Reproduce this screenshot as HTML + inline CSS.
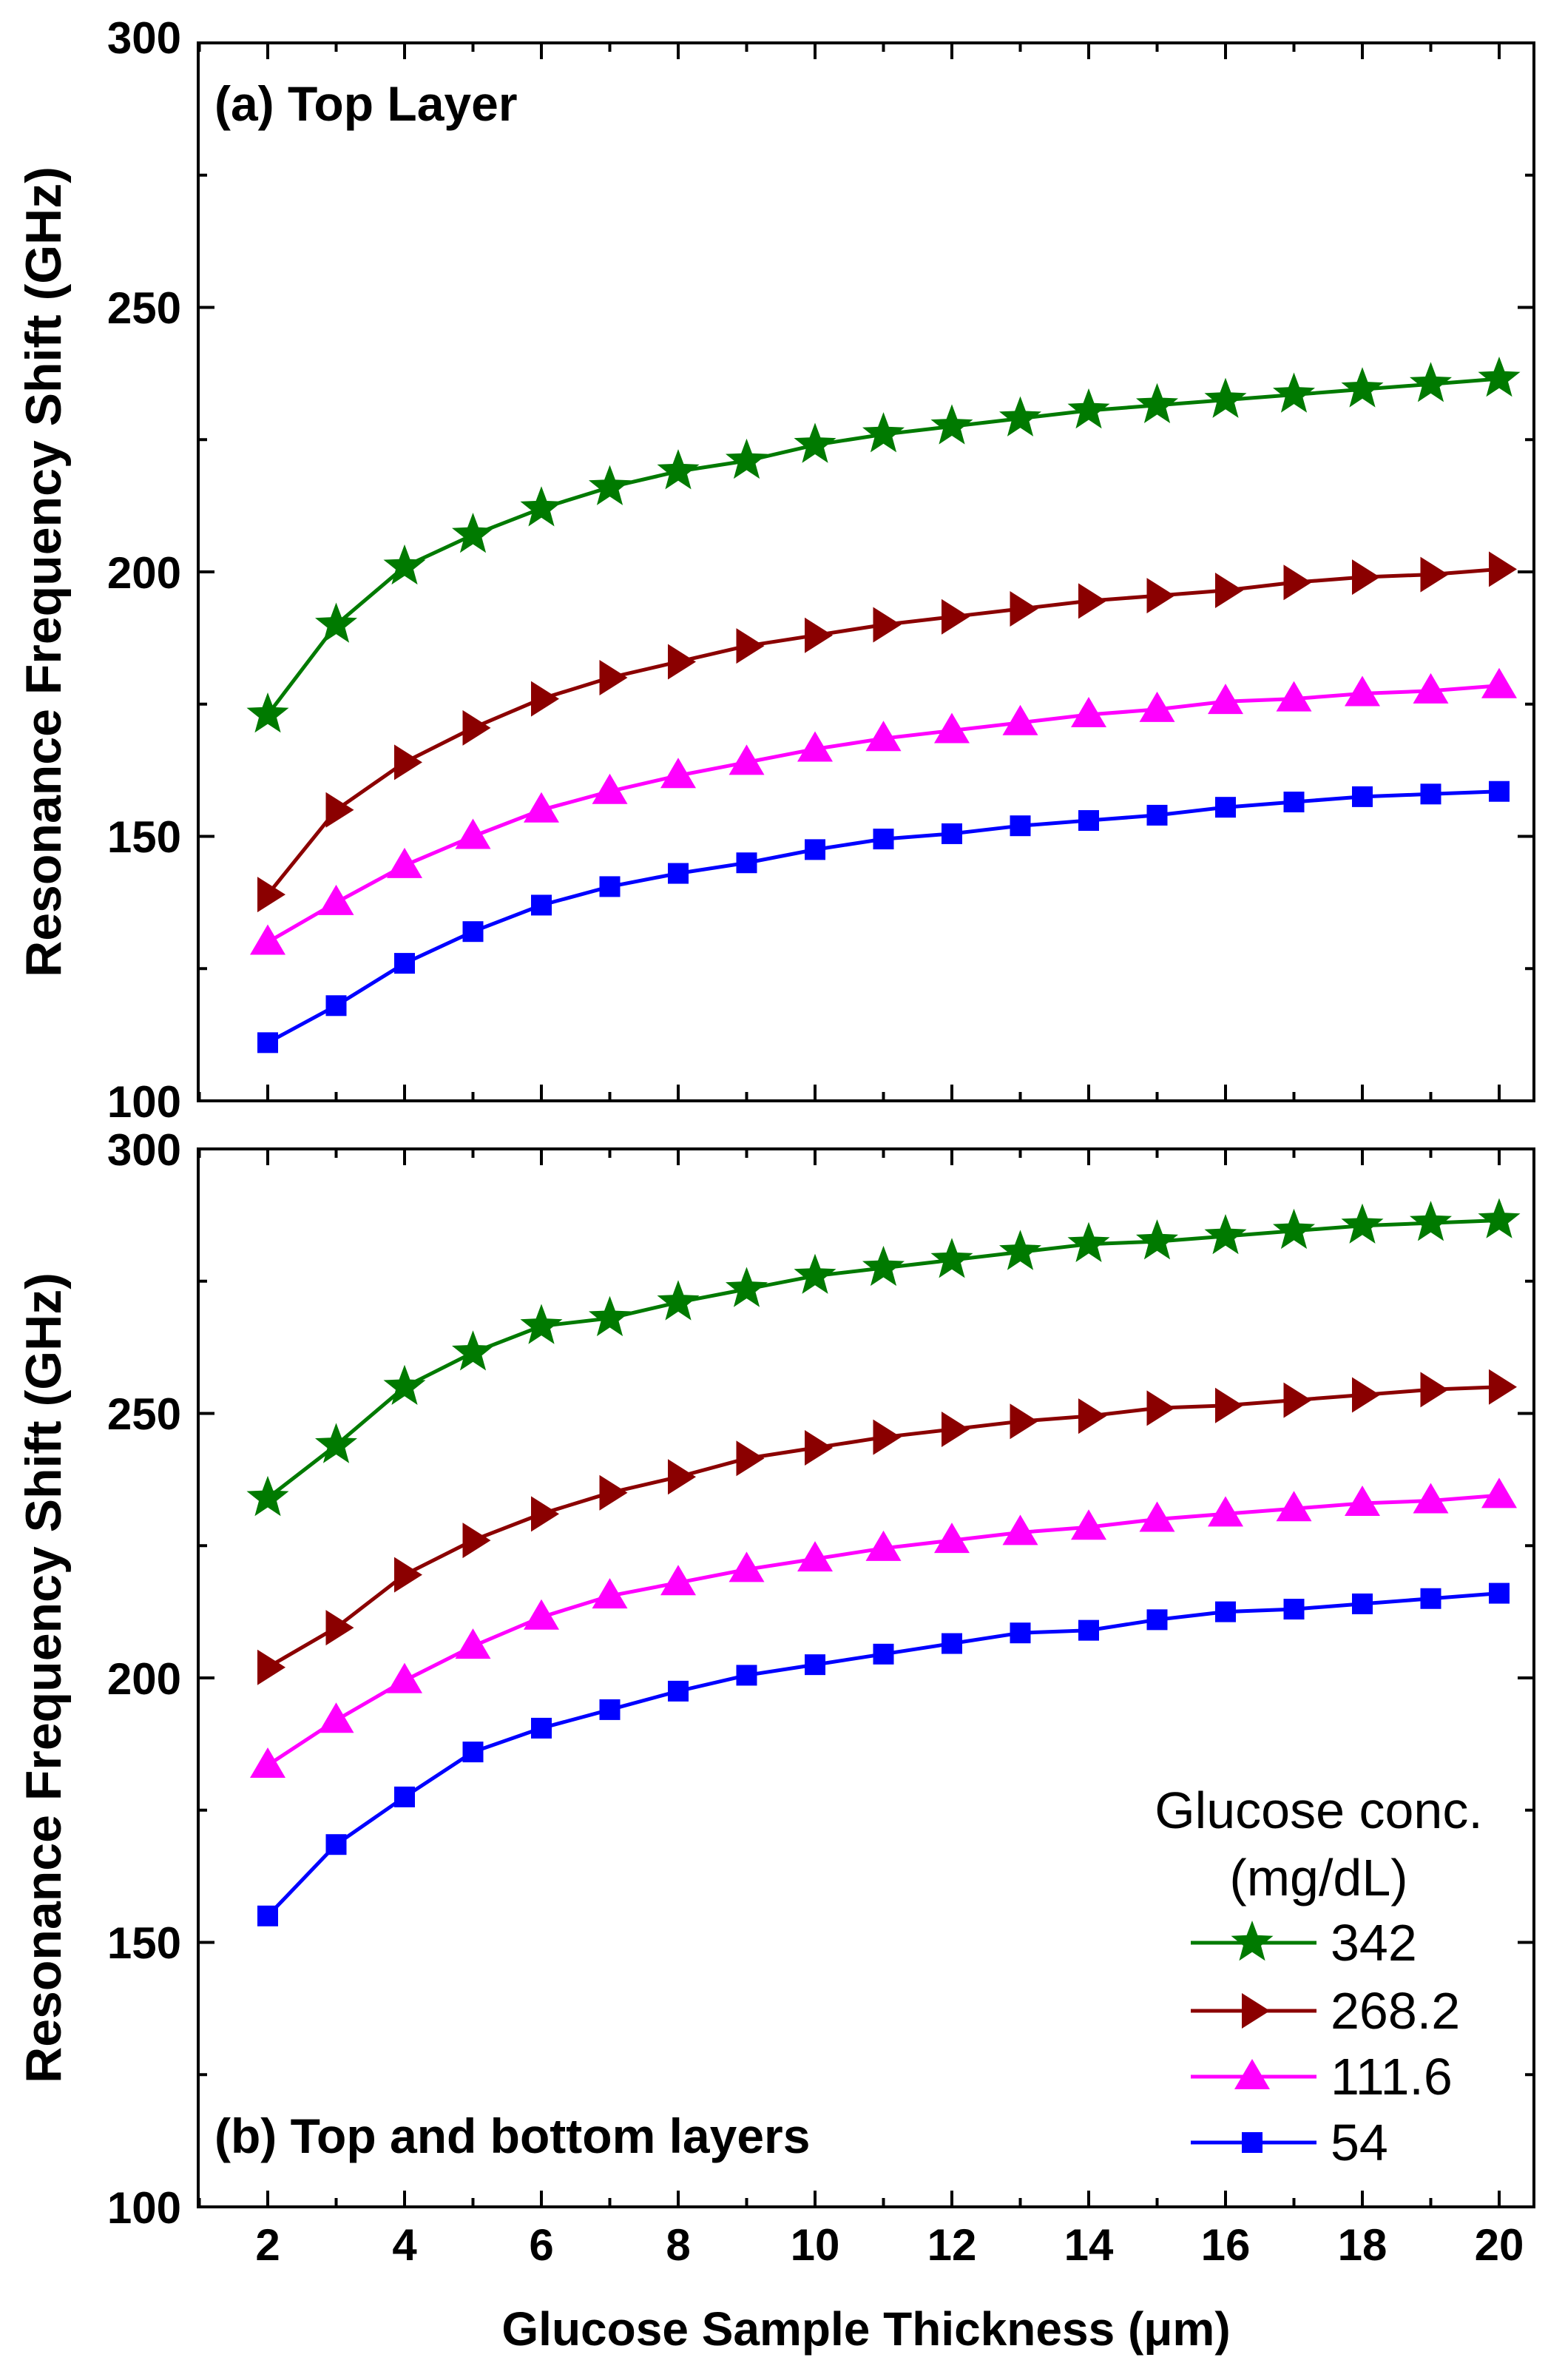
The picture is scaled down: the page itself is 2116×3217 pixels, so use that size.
<!DOCTYPE html>
<html><head><meta charset="utf-8"><style>
html,body{margin:0;padding:0;background:#fff}
svg{display:block}
text{font-family:"Liberation Sans",Arial,sans-serif}
</style></head><body>
<svg id="s" xmlns="http://www.w3.org/2000/svg" width="2116" height="3217" viewBox="0 0 2116 3217">
<rect width="2116" height="3217" fill="#fff"/>
<g font-weight="bold" font-size="60" text-anchor="end" fill="#000">
<text x="245" y="72">300</text><text x="245" y="437">250</text><text x="245" y="795">200</text><text x="245" y="1152">150</text><text x="245" y="1510">100</text>
<text x="245" y="1575">300</text><text x="245" y="1932">250</text><text x="245" y="2290">200</text><text x="245" y="2647">150</text><text x="245" y="3005">100</text>
</g>
<g font-weight="bold" font-size="68" text-anchor="middle">
<text transform="translate(82,773) rotate(-90)">Resonance Frequency Shift (GHz)</text>
<text transform="translate(82,2268) rotate(-90)">Resonance Frequency Shift (GHz)</text>
</g>
<text x="290" y="163" font-weight="bold" font-size="66">(a) Top Layer</text>
<text x="290" y="2910" font-weight="bold" font-size="66">(b) Top and bottom layers</text>
<g font-weight="bold" font-size="60" text-anchor="middle" id="xl"></g>
<text x="1171" y="3170" font-weight="bold" font-size="64" text-anchor="middle">Glucose Sample Thickness (μm)</text>
<g id="plot"></g>
<g font-size="70" fill="#000">
<text x="1783" y="2471" text-anchor="middle">Glucose conc.</text>
<text x="1783" y="2562" text-anchor="middle">(mg/dL)</text>
<text x="1799" y="2650">342</text>
<text x="1799" y="2742">268.2</text>
<text x="1799" y="2831">111.6</text>
<text x="1799" y="2920">54</text>
</g>
</svg>
<script>
(function(){
var NS="http://www.w3.org/2000/svg",P=document.getElementById('plot'),XL=document.getElementById('xl');
function el(t,a,p){var e=document.createElementNS(NS,t);for(var k in a)e.setAttribute(k,a[k]);(p||P).appendChild(e);return e;}
function X(v){return 362+(v-2)*92.5;}
var L=268,R=2074;
var panels=[{top:58,bot:1488},{top:1553,bot:2983}];
function Y(p,v){return p.bot-(v-100)*(p.bot-p.top)/200;}
var cols=["#007a00","#8b0000","#ff00ff","#0000ff"];
var data=[
[[173,190,201,207,212,216,219,221,224,226,227.5,229,230.5,231.5,232.5,233.5,234.5,235.5,236.5],
[139,155,164,170.5,176,180,183,186,188,190,191.5,193,194.5,195.5,196.5,198,199,199.5,200.5],
[130,137.5,144.5,150,155,158.5,161.5,164,166.5,168.5,170,171.5,173,174,175.5,176,177,177.5,178.5],
[111,118,126,132,137,140.5,143,145,147.5,149.5,150.5,152,153,154,155.5,156.5,157.5,158,158.5]],
[[234,244,255,261.5,266.5,268,271,273.5,276,277.5,279,280.5,282,282.5,283.5,284.5,285.5,286,286.5],
[202,209.5,219.5,226,231,235,238,241.5,243.5,245.5,247,248.5,249.5,251,251.5,252.5,253.5,254.5,255],
[183.5,192,199.5,206,211.5,215.5,218,220.5,222.5,224.5,226,227.5,228.5,230,231,232,233,233.5,234.5],
[155,168.5,177.5,186,190.5,194,197.5,200.5,202.5,204.5,206.5,208.5,209,211,212.5,213,214,215,216]]];
function star(cx,cy,r,c){var pts=[];for(var i=0;i<10;i++){var a=-Math.PI/2+i*Math.PI/5,rr=i%2?r*0.42:r;pts.push((cx+rr*Math.cos(a)).toFixed(1)+","+(cy+rr*Math.sin(a)).toFixed(1));}el('polygon',{points:pts.join(' '),fill:c});}
function marker(k,cx,cy){var c=cols[k];
if(k==0)star(cx,cy,30,c);
else if(k==1)el('polygon',{points:(cx-14)+","+(cy-24)+" "+(cx+24)+","+cy+" "+(cx-14)+","+(cy+24),fill:c});
else if(k==2)el('polygon',{points:cx+","+(cy-24)+" "+(cx+24)+","+(cy+17)+" "+(cx-24)+","+(cy+17),fill:c});
else el('rect',{x:cx-14,y:cy-14,width:28,height:28,fill:c});}
panels.forEach(function(p,pi){
 for(var v=1;v<=20;v++){var x=X(v),len=(v%2==0)?22:12;
  el('line',{x1:x,y1:p.bot,x2:x,y2:p.bot-len,stroke:"#000","stroke-width":4});
  el('line',{x1:x,y1:p.top,x2:x,y2:p.top+len,stroke:"#000","stroke-width":4});}
 for(var v=100;v<=300;v+=25){var y=Y(p,v),len=(v%50==0)?22:12;
  el('line',{x1:L,y1:y,x2:L+len,y2:y,stroke:"#000","stroke-width":4});
  el('line',{x1:R,y1:y,x2:R-len,y2:y,stroke:"#000","stroke-width":4});}
 el('rect',{x:L,y:p.top,width:R-L,height:p.bot-p.top,fill:"none",stroke:"#000","stroke-width":4});
 data[pi].forEach(function(s,k){var pts=s.map(function(v,i){return X(i+2).toFixed(1)+","+Y(p,v).toFixed(1);}).join(' ');
  el('polyline',{points:pts,fill:"none",stroke:cols[k],"stroke-width":5});
  s.forEach(function(v,i){marker(k,X(i+2),Y(p,v));});});
});
for(var v=2;v<=20;v+=2){var t=el('text',{x:X(v),y:3055},XL);t.textContent=v;}
var ly=[2626,2718,2807,2896];
ly.forEach(function(y,k){el('line',{x1:1610,y1:y,x2:1780,y2:y,stroke:cols[k],"stroke-width":5});marker(k,1693,y);});
})();
</script>
</body></html>
